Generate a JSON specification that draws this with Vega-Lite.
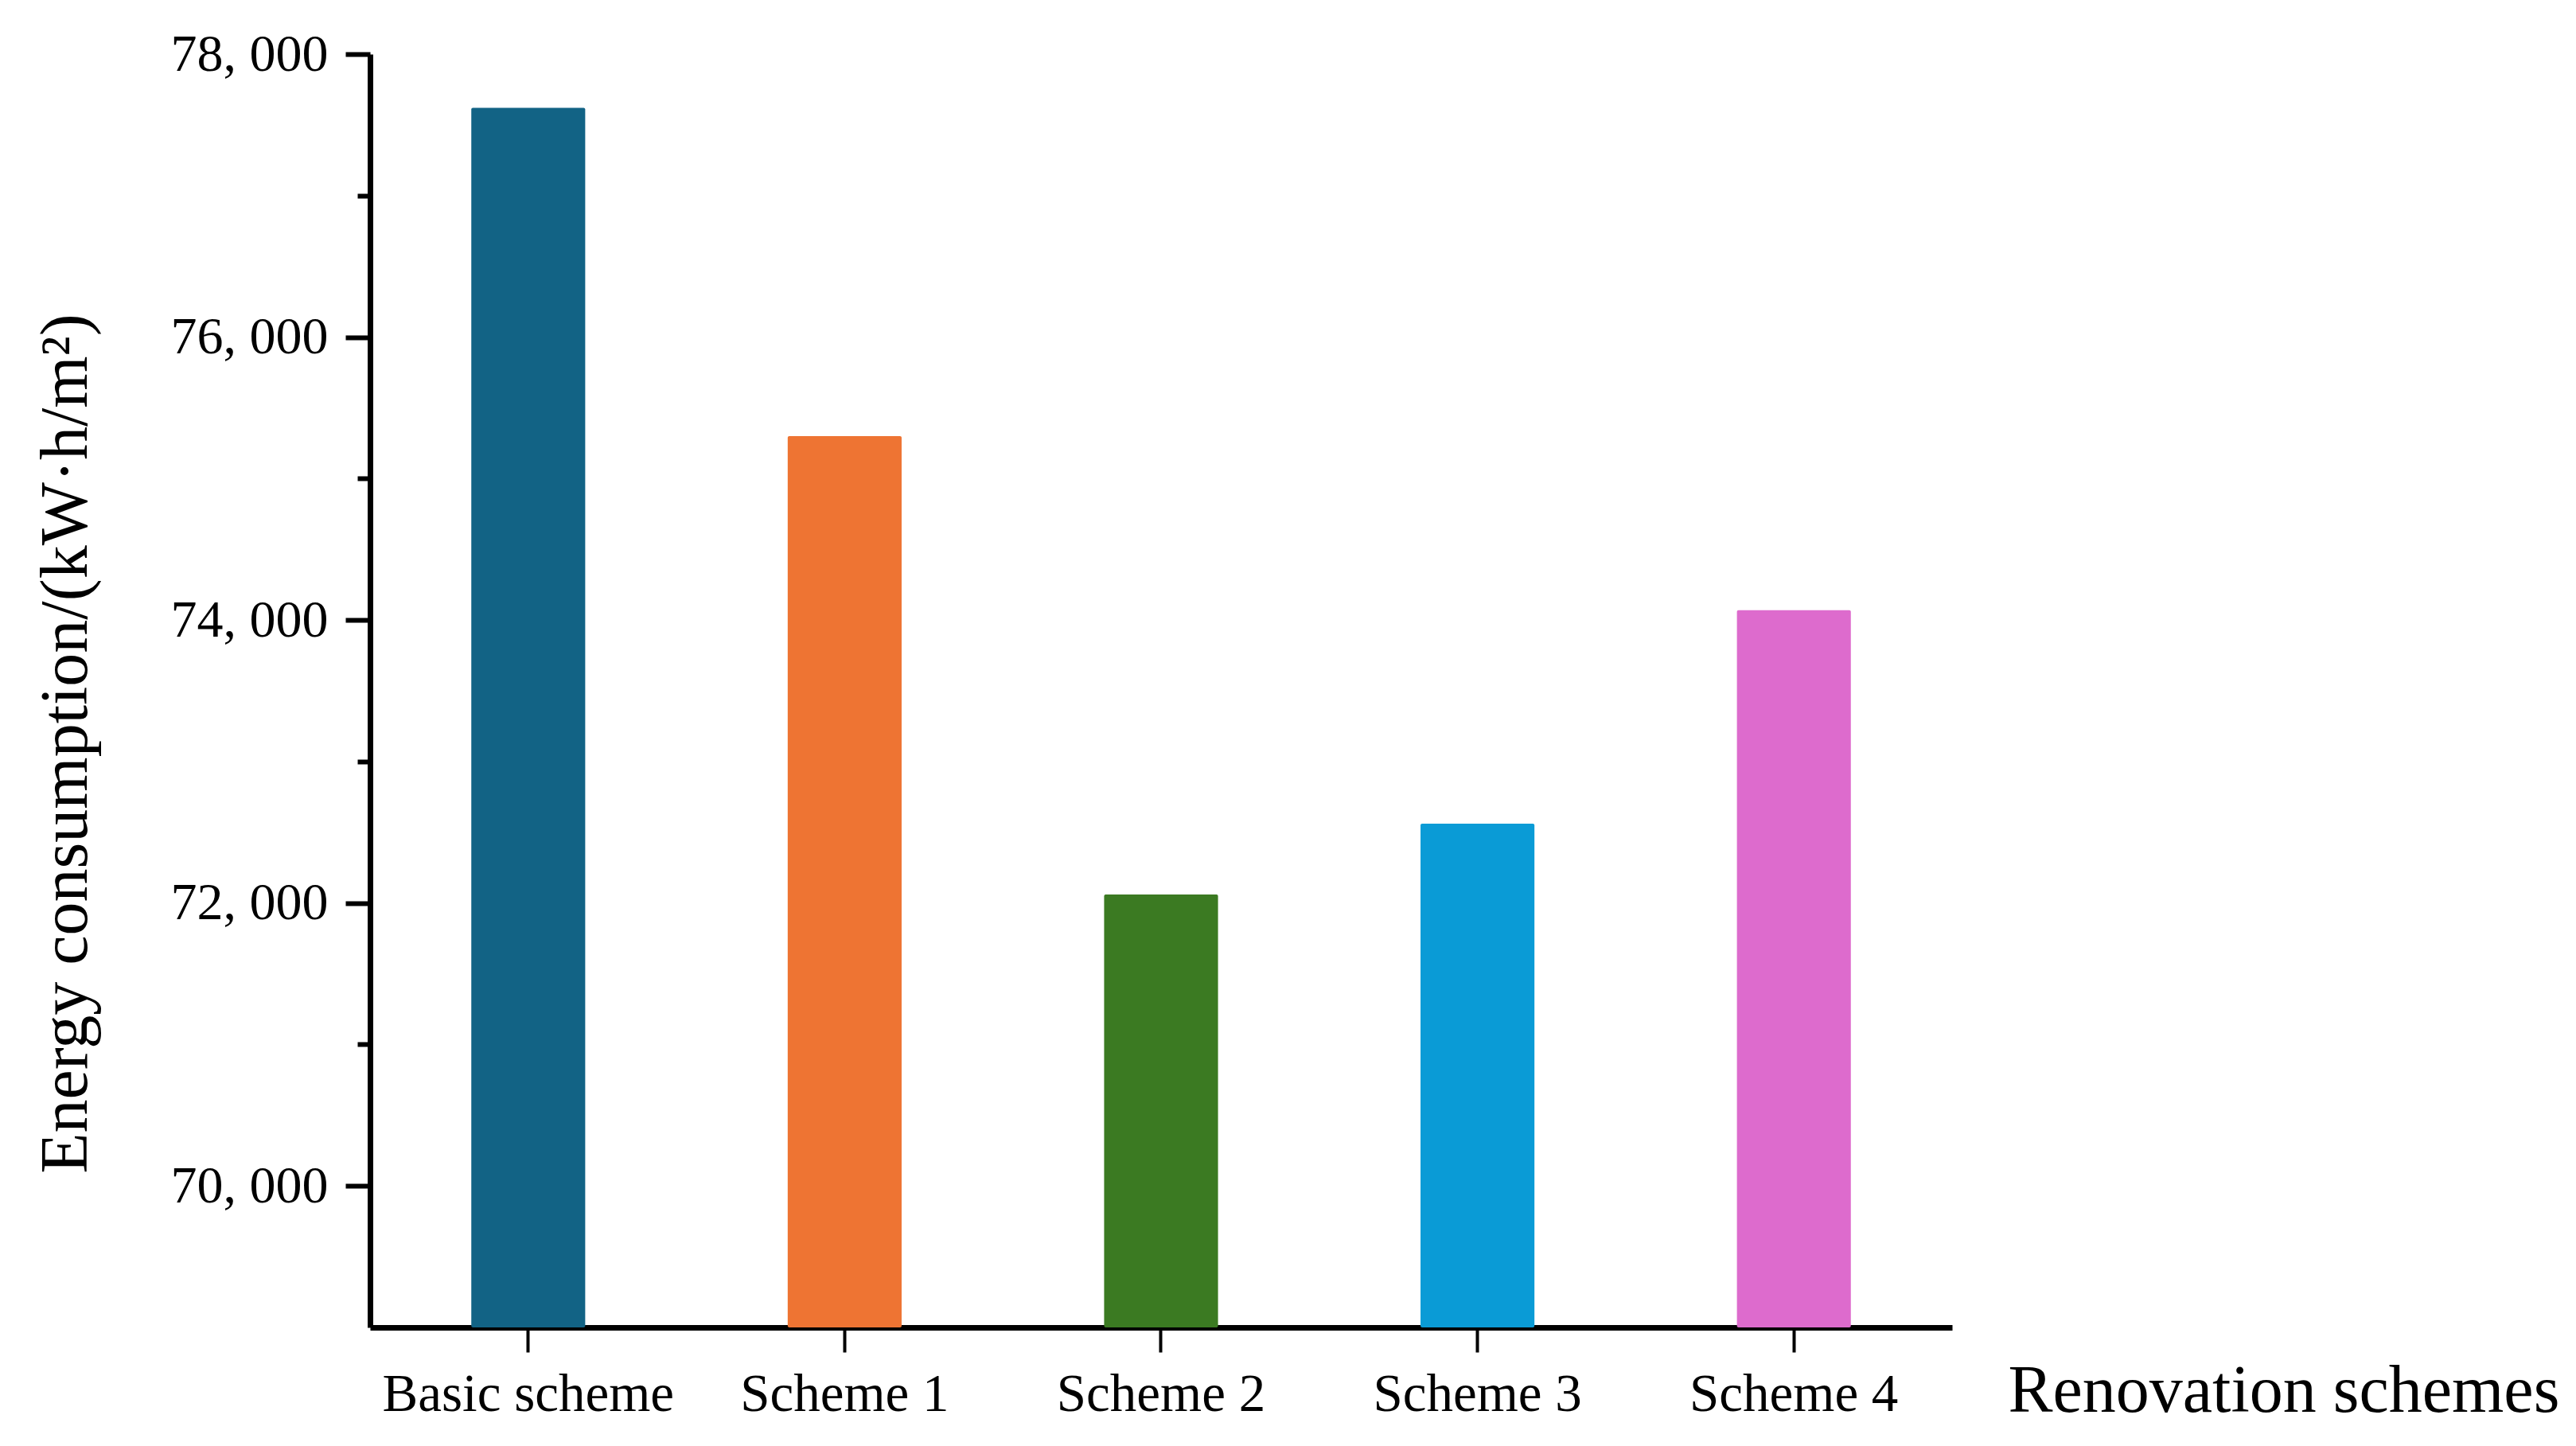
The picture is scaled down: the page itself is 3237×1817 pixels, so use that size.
{
  "$schema": "https://vega.github.io/schema/vega-lite/v6.json",
  "autosize": {"type": "none"},
  "padding": {"left": 465, "top": 68, "right": 784, "bottom": 149},
  "width": 1988,
  "height": 1600,
  "background": "white",
  "config": {"view": {"stroke": null}},
  "data": {
    "values": [
      {"scheme": "Basic scheme", "energy": 77620},
      {"scheme": "Scheme 1", "energy": 75300},
      {"scheme": "Scheme 2", "energy": 72060},
      {"scheme": "Scheme 3", "energy": 72560},
      {"scheme": "Scheme 4", "energy": 74070}
    ]
  },
  "mark": {"type": "bar", "cornerRadius": 2},
  "encoding": {
    "x": {
      "field": "scheme",
      "type": "nominal",
      "sort": null,
      "scale": {"paddingInner": 0.64, "paddingOuter": 0.32},
      "axis": {
        "title": "Renovation schemes",
        "titleFont": "Liberation Serif",
        "titleFontSize": 84,
        "titleFontWeight": "normal",
        "titleColor": "black",
        "titleX": 2058,
        "titleY": 105,
        "titleAlign": "left",
        "titleAnchor": null,
        "titleBaseline": "alphabetic",
        "titleLimit": 0,
        "labelAngle": 0,
        "labelFont": "Liberation Serif",
        "labelFontSize": 67,
        "labelColor": "black",
        "labelPadding": 20,
        "labelLimit": 0,
        "domainColor": "black",
        "domainWidth": 7,
        "tickColor": "black",
        "tickWidth": 4,
        "tickSize": 31,
        "grid": false
      }
    },
    "y": {
      "field": "energy",
      "type": "quantitative",
      "scale": {"domain": [69000, 78000], "zero": false, "nice": false},
      "axis": {
        "title": "Energy consumption/(kW·h/m²)",
        "titleFont": "Liberation Serif",
        "titleFontSize": 84,
        "titleFontWeight": "normal",
        "titleColor": "black",
        "titleAngle": -90,
        "titleX": -357,
        "titleY": 866,
        "titleAlign": "center",
        "titleAnchor": null,
        "titleBaseline": "alphabetic",
        "titleLimit": 0,
        "values": [70000, 71000, 72000, 73000, 74000, 75000, 76000, 77000, 78000],
        "labelExpr": "datum.value % 2000 === 0 ? replace(format(datum.value, ','), ',', ', ') : ''",
        "labelFont": "Liberation Serif",
        "labelFontSize": 66,
        "labelColor": "black",
        "labelPadding": 22,
        "labelLimit": 0,
        "domainColor": "black",
        "domainWidth": 7,
        "tickColor": "black",
        "tickWidth": 6,
        "tickSize": {"expr": "datum.value % 2000 === 0 ? 31 : 16"},
        "grid": false
      }
    },
    "y2": {"datum": 69000},
    "color": {
      "field": "scheme",
      "type": "nominal",
      "sort": null,
      "scale": {
        "domain": ["Basic scheme", "Scheme 1", "Scheme 2", "Scheme 3", "Scheme 4"],
        "range": ["#126385", "#EE7433", "#3B7A22", "#0A9BD6", "#DD6BCD"]
      },
      "legend": null
    }
  }
}
